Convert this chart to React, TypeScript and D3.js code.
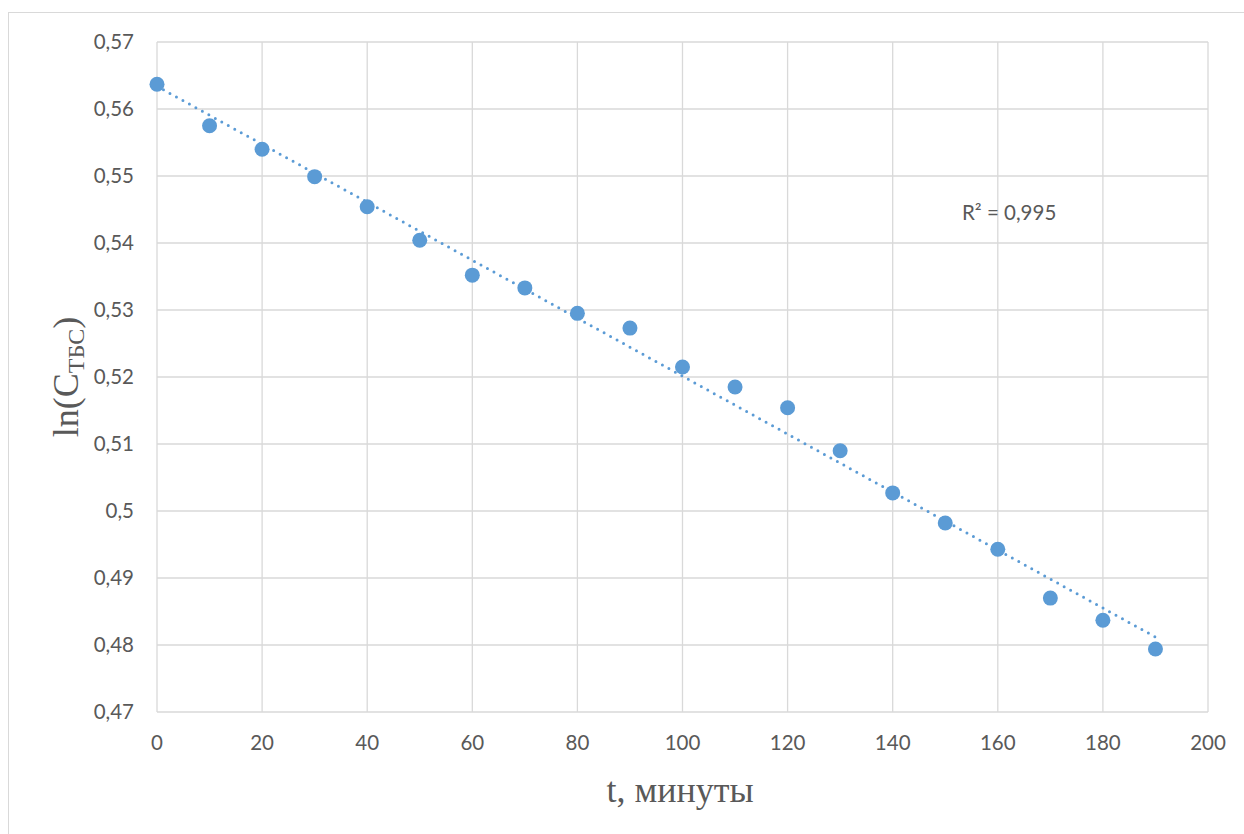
import React from "react";
import * as d3 from "d3";

const times = [0, 10, 20, 30, 40, 50, 60, 70, 80, 90, 100, 110, 120, 130, 140, 150, 160, 170, 180, 190];
const lnC = [0.5637, 0.5575, 0.554, 0.5499, 0.5454, 0.5404, 0.5352, 0.5333, 0.5295, 0.5273, 0.5215, 0.5185, 0.5154, 0.509, 0.5027, 0.4982, 0.4943, 0.487, 0.4837, 0.4794];
const xTicks = [0, 20, 40, 60, 80, 100, 120, 140, 160, 180, 200];
const yTicks = [0.47, 0.48, 0.49, 0.5, 0.51, 0.52, 0.53, 0.54, 0.55, 0.56, 0.57];
const r2Label = "R² = 0,995";

export default function App() {
  const W = 1244, H = 834;
  const left = 157, right = 1208, top = 42, bottom = 712;
  const x = d3.scaleLinear().domain([0, 200]).range([left, right]);
  const y = d3.scaleLinear().domain([0.47, 0.57]).range([bottom, top]);

  const mx = d3.mean(times)!;
  const my = d3.mean(lnC)!;
  let sxy = 0, sxx = 0;
  times.forEach((t, i) => { sxy += (t - mx) * (lnC[i] - my); sxx += (t - mx) * (t - mx); });
  const slope = sxy / sxx;
  const icpt = my - slope * mx;
  const t0 = times[0], t1 = times[times.length - 1];
  const line = d3.line<number>().x((t) => x(t)).y((t) => y(icpt + slope * t));

  const fmt = (v: number) => String(+v.toFixed(2)).replace(".", ",");
  const tickFont = "Lato, 'Open Sans', sans-serif";
  const grid = "#d9d9d9";

  return (
    <svg width={W} height={H} style={{ position: "absolute", left: 0, top: 0, background: "#fff" }}>
      <rect x={8.5} y={12.5} width={1250} height={830} fill="#fff" stroke="#d9d9d9" strokeWidth={1} />
      {xTicks.map((t) => (
        <line key={"gx" + t} x1={x(t)} x2={x(t)} y1={top} y2={bottom} stroke={grid} strokeWidth={1.3} />
      ))}
      {yTicks.map((v) => (
        <line key={"gy" + v} x1={left} x2={right} y1={y(v)} y2={y(v)} stroke={grid} strokeWidth={1.3} />
      ))}
      {yTicks.map((v) => (
        <text key={"ty" + v} x={134} y={y(v)} dy="0.35em" textAnchor="end" fontFamily={tickFont} fontSize={20.5} fill="#595959">
          {fmt(v)}
        </text>
      ))}
      {xTicks.map((t) => (
        <text key={"tx" + t} x={x(t)} y={743} dy="0.35em" textAnchor="middle" fontFamily={tickFont} fontSize={20.5} fill="#595959">
          {t}
        </text>
      ))}
      <path d={line([t0, t1]) || ""} fill="none" stroke="#5b9bd5" strokeWidth={3} strokeLinecap="round" strokeDasharray="0 7.4" />
      {times.map((t, i) => (
        <circle key={"p" + t} cx={x(t)} cy={y(lnC[i])} r={7.5} fill="#5b9bd5" />
      ))}
      <text x={962} y={213} dy="0.35em" fontFamily={tickFont} fontSize={20.5} fill="#595959">{r2Label}</text>
      <text x={680} y={802} textAnchor="middle" fontFamily="'Liberation Serif', 'Times New Roman', serif" fontSize={36} fill="#595959">
        t, минуты
      </text>
      <text transform="translate(78,377) rotate(-90)" textAnchor="middle" fontFamily="'Liberation Serif', 'Times New Roman', serif" fontSize={36} fill="#595959">
        ln(C<tspan fontSize={24} dy={6}>ТБС</tspan><tspan dy={-6}>)</tspan>
      </text>
    </svg>
  );
}
